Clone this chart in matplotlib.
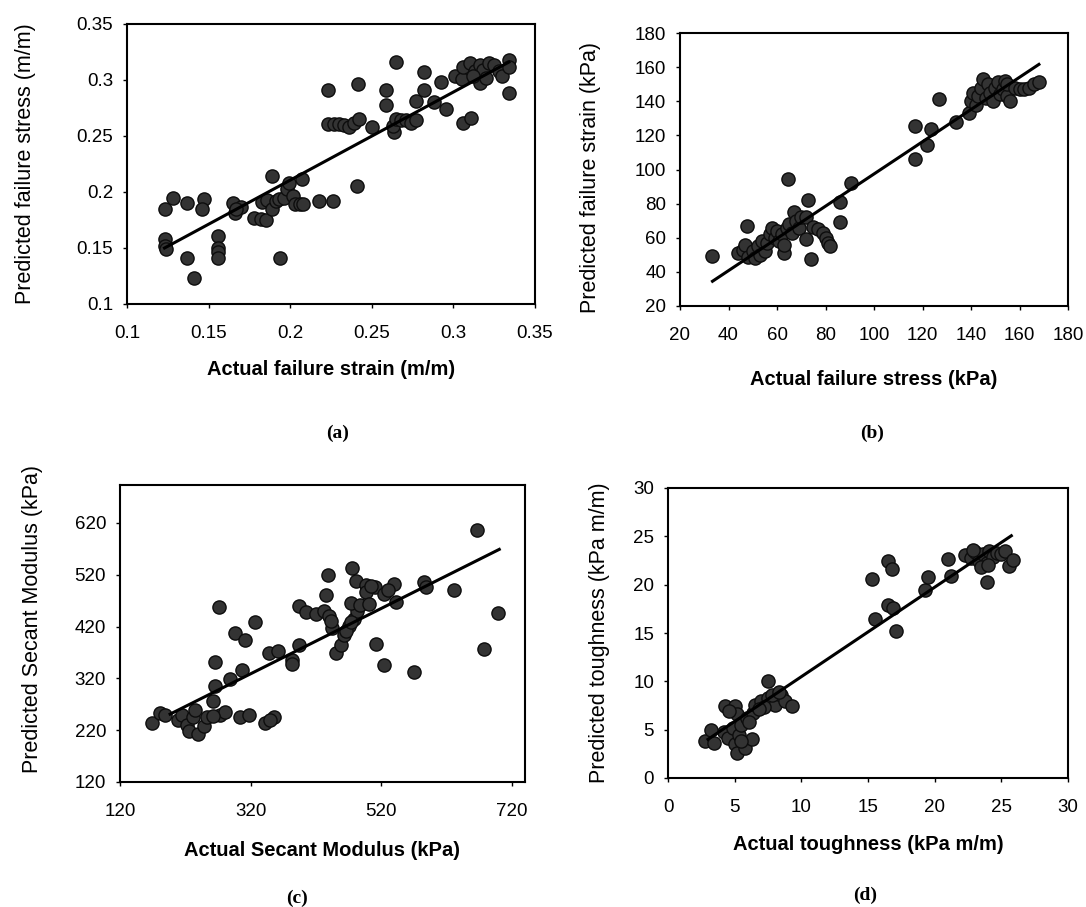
import numpy as np
import matplotlib
matplotlib.use('Agg')
import matplotlib.pyplot as plt

plt.rcParams['font.family'] = ['Liberation Sans', 'DejaVu Sans']

# (a) failure strain
a_actual = [0.123, 0.128, 0.123, 0.123, 0.124, 0.137, 0.147, 0.146, 0.137, 0.141,
            0.156, 0.156, 0.156, 0.156, 0.165, 0.166, 0.170, 0.167, 0.178, 0.182,
            0.185, 0.189, 0.183, 0.186, 0.189, 0.191, 0.193, 0.196, 0.198, 0.199,
            0.194, 0.202, 0.203, 0.206, 0.208, 0.207, 0.2175, 0.226, 0.241, 0.223,
            0.2415, 0.223, 0.227, 0.230, 0.233, 0.236, 0.239, 0.242, 0.250, 0.2586,
            0.2586, 0.265, 0.2637, 0.263, 0.2647, 0.268, 0.271, 0.274, 0.277, 0.277,
            0.282, 0.282, 0.288, 0.2925, 0.2956, 0.3007, 0.305, 0.306, 0.311, 0.306,
            0.310, 0.313, 0.316, 0.318, 0.322, 0.325, 0.328, 0.330, 0.334, 0.334,
            0.316, 0.320, 0.312, 0.334]
a_pred = [0.185, 0.195, 0.158, 0.152, 0.149, 0.190, 0.194, 0.185, 0.141, 0.123,
          0.161, 0.150, 0.146, 0.141, 0.190, 0.181, 0.187, 0.185, 0.177, 0.176,
          0.175, 0.214, 0.191, 0.193, 0.185, 0.192, 0.194, 0.195, 0.203, 0.208,
          0.141, 0.196, 0.189, 0.189, 0.189, 0.212, 0.192, 0.192, 0.205, 0.291,
          0.296, 0.261, 0.261, 0.261, 0.260, 0.258, 0.262, 0.265, 0.258, 0.291,
          0.278, 0.316, 0.254, 0.259, 0.265, 0.264, 0.264, 0.262, 0.264, 0.281,
          0.291, 0.307, 0.280, 0.298, 0.274, 0.304, 0.301, 0.262, 0.266, 0.312,
          0.315, 0.308, 0.313, 0.309, 0.315, 0.313, 0.308, 0.304, 0.318, 0.312,
          0.297, 0.302, 0.304, 0.288]
a_fit_x = [0.123, 0.334]
a_fit_y = [0.150, 0.316]

# (b) failure stress
b_actual = [33.4, 47.8, 44, 46, 47, 48, 50, 51, 52, 53, 55, 54, 56, 57, 58, 59, 60,
            61, 62, 62.7, 63, 64, 64.6, 65, 66, 67, 68, 69, 70, 72, 72.6, 72, 74, 75,
            77, 79, 80, 81, 82, 86, 86, 90.5, 117, 117, 122, 123.5, 127, 134,
            139, 140, 141, 142, 143, 144, 145, 146, 147, 148, 149, 150, 151, 152,
            153, 154, 155, 155, 156, 158, 160, 162, 164, 166, 168]
b_pred = [49.5, 67, 51, 53, 56, 49, 52, 48, 55, 50, 52, 58, 57, 62, 66, 60, 64,
          58, 62, 51, 56, 66, 94.7, 68, 63, 75, 70, 66, 72, 72, 82, 59, 47.5, 66.5,
          65, 62.7, 60, 57, 55, 81, 69.4, 92, 125.7, 105.9, 114.4, 123.8, 141.6, 127.6,
          133, 140, 145, 138, 143, 148, 153, 142, 150, 145, 140, 148, 151, 144,
          147, 152, 143, 150, 140, 148, 147, 147, 148, 150, 151]
b_fit_x = [33.4, 168]
b_fit_y = [34.5, 161.6]

# (c) secant modulus
c_actual = [168.6, 181, 189, 209, 215, 222, 226, 231, 240, 248, 235, 253, 273, 281, 262,
            263, 266, 271, 266, 289, 306, 296.5, 312, 327, 304, 318, 342.5, 355, 349,
            347.6, 362, 383, 384, 394.7, 393.7, 404, 420, 432, 440, 445, 443,
            435.6, 438.7, 450, 457.6, 462.7, 470, 478, 483, 466, 474,
            475.5, 480.6, 496, 496, 511, 524, 539, 542, 504, 530, 473, 488, 501,
            512, 524, 570, 585, 588, 631.5, 666, 698, 676.5]
c_pred = [233, 253, 249.5, 240, 250, 230, 218, 246, 213, 228, 258, 245, 249.5, 256, 248,
          275.5, 304.6, 457, 351, 319, 337, 408, 394, 428, 245, 249.5, 233, 245, 239,
          368, 373, 356, 347, 383.6, 460, 448.5, 444, 450.5, 441, 418, 430,
          480.7, 519.6, 369, 385, 404, 421, 435, 450, 412, 428,
          532.6, 508.6, 500, 486, 496, 483, 502, 466.5, 498, 490, 466, 461, 463,
          385.5, 345, 332, 506.7, 495.7, 491, 607, 447, 376]
c_fit_x = [196.7, 700.6]
c_fit_y = [251, 568.8]

# (d) toughness
d_actual = [2.74, 3.42, 3.24, 4.3, 5.0, 5.2, 4.6, 4.2, 4.5, 5.0, 5.2, 5.8, 6.3, 4.9,
            5.3, 5.5, 5.5, 5.9, 6.4, 6.5, 7.0, 7.5, 8.0, 8.5, 8.8, 9.3, 6.1, 7.2, 7.8,
            8.3, 6.8, 7.5, 15.3, 15.5, 16.5, 16.8, 16.5, 16.9, 17.1, 19.3, 19.5, 21.0,
            21.2, 22.3, 22.7, 23.0, 23.3, 23.6, 23.9, 24.1, 24.4, 24.7, 25.0, 25.3,
            23.5, 24.0, 22.9, 23.9, 25.6, 25.9]
d_pred = [3.8, 3.6, 5.0, 7.4, 7.4, 6.6, 6.9, 4.8, 4.1, 3.5, 2.6, 3.1, 4.0, 5.2,
          4.5, 3.8, 5.5, 6.2, 6.7, 7.6, 8.0, 8.3, 7.6, 8.6, 8.0, 7.4, 5.8, 7.3, 8.6,
          8.9, 7.1, 10.0, 20.6, 16.4, 22.5, 21.6, 17.9, 17.6, 15.2, 19.5, 20.8, 22.7,
          20.9, 23.1, 22.8, 23.4, 22.5, 23.2, 22.2, 23.5, 22.9, 23.3, 23.2, 23.5,
          21.8, 22.0, 23.6, 20.3, 21.9, 22.6]
d_fit_x = [3.0, 25.75]
d_fit_y = [4.0, 25.06]

W, H = 1086, 907
fig = plt.figure(figsize=(W / 100, H / 100), dpi=100)


def px_axes(left, top, right, bottom):
    return fig.add_axes([left / W, 1 - bottom / H, (right - left) / W, (bottom - top) / H])


def draw_panel(ax, x, y, fx, fy, xlim, ylim, xticks, yticks, xlab, ylab, xtl, ytl,
               xl_y, yl_x, yl_y=0.5):
    ax.plot(x, y, 'o', ms=9.5, mfc='#333333', mec='#0d0d0d', mew=1.0, zorder=2)
    ax.plot(fx, fy, '-', color='black', lw=2.2, zorder=3)
    ax.set_xlim(*xlim)
    ax.set_ylim(*ylim)
    ax.set_xticks(xticks)
    ax.set_yticks(yticks)
    ax.set_xticklabels(xtl)
    ax.set_yticklabels(ytl)
    ax.tick_params(direction='out', length=3, width=1, labelsize=13.5, top=False, right=False)
    ax.tick_params(axis='x', pad=12)
    ax.tick_params(axis='y', pad=7)
    for s in ax.spines.values():
        s.set_linewidth(1.5)
    ax.set_xlabel(xlab, fontsize=14.5, fontweight='bold', va='center')
    ax.set_ylabel(ylab, fontsize=15.5, va='center')
    ax.xaxis.set_label_coords(0.5, xl_y)
    ax.yaxis.set_label_coords(yl_x, yl_y)


ax_a = px_axes(127, 24, 535, 304)
draw_panel(ax_a, a_actual, a_pred, a_fit_x, a_fit_y, (0.1, 0.35), (0.1, 0.35),
           [0.1, 0.15, 0.2, 0.25, 0.3, 0.35], [0.1, 0.15, 0.2, 0.25, 0.3, 0.35],
           'Actual failure strain (m/m)', 'Predicted failure stress (m/m)',
           ['0.1', '0.15', '0.2', '0.25', '0.3', '0.35'],
           ['0.1', '0.15', '0.2', '0.25', '0.3', '0.35'], -0.235, -0.25)

ax_b = px_axes(680, 33, 1068, 306)
draw_panel(ax_b, b_actual, b_pred, b_fit_x, b_fit_y, (20, 180), (20, 180),
           range(20, 181, 20), range(20, 181, 20),
           'Actual failure stress (kPa)', 'Predicted failure strain (kPa)',
           [str(v) for v in range(20, 181, 20)], [str(v) for v in range(20, 181, 20)],
           -0.27, -0.23, 0.47)

ax_c = px_axes(120, 485, 525, 782)
draw_panel(ax_c, c_actual, c_pred, c_fit_x, c_fit_y, (120, 740), (120, 693),
           [120, 320, 520, 720], [120, 220, 320, 420, 520, 620],
           'Actual Secant Modulus (kPa)', 'Predicted Secant Modulus (kPa)',
           ['120', '320', '520', '720'], ['120', '220', '320', '420', '520', '620'],
           -0.23, -0.215, 0.55)

ax_d = px_axes(668, 488, 1068, 778)
draw_panel(ax_d, d_actual, d_pred, d_fit_x, d_fit_y, (0, 30), (0, 30),
           range(0, 31, 5), range(0, 31, 5),
           'Actual toughness (kPa m/m)', 'Predicted toughness (kPa m/m)',
           [str(v) for v in range(0, 31, 5)], [str(v) for v in range(0, 31, 5)],
           -0.23, -0.17)

for lbl, xp, yp in [('(a)', 338, 433), ('(b)', 872, 433), ('(c)', 297, 898), ('(d)', 865, 895)]:
    fig.text(xp / W, 1 - yp / H, lbl, ha='center', va='center', fontsize=14,
             fontweight='bold', family='Liberation Serif')

fig.savefig('out.png', dpi=100)
